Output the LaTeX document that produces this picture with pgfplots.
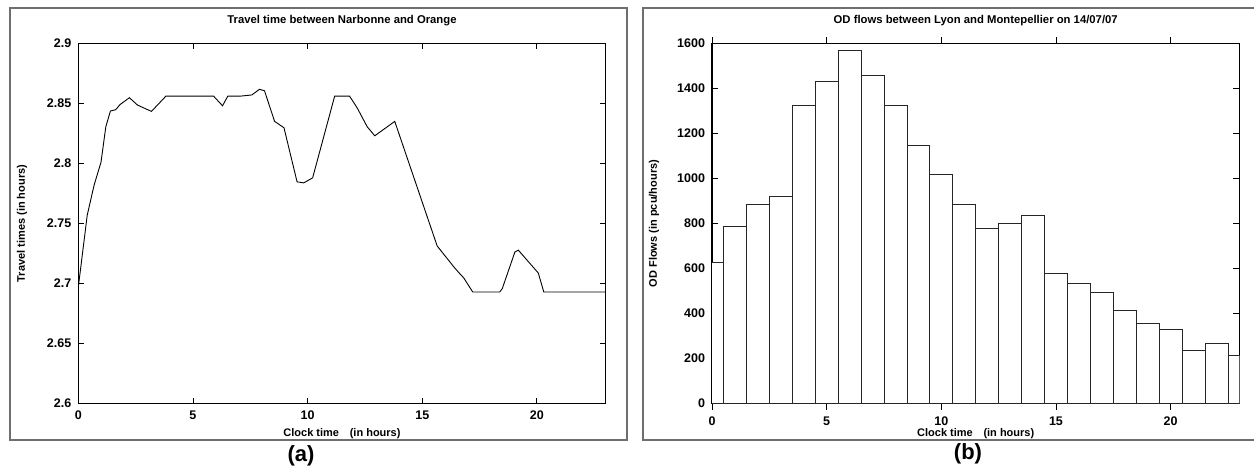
\documentclass[border=0pt]{standalone}
\usepackage{fontspec}
\setmainfont{Liberation Sans}
\usepackage{pgfplots}
\pgfplotsset{compat=1.18}
\definecolor{framegray}{RGB}{110,110,110}
\begin{document}
\begin{tikzpicture}
\path[use as bounding box] (0pt,0pt) rectangle (1254pt,468pt);
\draw[framegray, line width=1.3pt] (10pt,28pt) rectangle (627pt,460pt);
\draw[framegray, line width=1.3pt] (643pt,28pt) rectangle (1264pt,460pt);
\pgfplotsset{
  myaxis/.style={
    scale only axis, width=527.4pt, height=360.4pt,
    anchor=south west,
    xmin=0, xmax=23,
    xtick={0,5,10,15,20},
    tick align=inside,
    major tick length=6pt,
    axis line style={line width=1.2pt},
    every tick/.style={black, line width=0.9pt},
    /pgf/number format/assume math mode=true,
    /pgf/number format/1000 sep={},
    tick label style={font=\bfseries\fontsize{12.5}{14}\selectfont},
    xticklabel shift=4pt,
    yticklabel shift=3.5pt,
    title style={at={(axis description cs:0.5,1)}, anchor=base, yshift=14pt, font=\bfseries\fontsize{11.3}{13}\selectfont},
    every axis x label/.style={at={(axis description cs:0.5,-0.0841)}, anchor=center, font=\bfseries\fontsize{11}{13}\selectfont},
    every axis y label/.style={rotate=90, anchor=center, font=\bfseries\fontsize{11}{13}\selectfont},
    xlabel={Clock time\hspace{10.7pt}(in hours)},
  }
}
\begin{axis}[myaxis, at={(78.3pt,64.3pt)},
  ymin=2.6, ymax=2.9,
  ytick={2.6,2.65,2.7,2.75,2.8,2.85,2.9},
  yticklabels={2.6,2.65,2.7,2.75,2.8,2.85,2.9},
  title={Travel time between Narbonne and Orange},
  ylabel={Travel times (in hours)},
  ylabel style={at={(axis description cs:-0.1067,0.5)}},
]
\addplot[black, line width=0.9pt] coordinates {
(0,2.697) (0.39,2.757) (0.69,2.782) (0.99,2.801) (1.2,2.8305) (1.4,2.8436)
(1.63,2.8447) (1.82,2.849) (2.23,2.8547) (2.58,2.8486) (3.19,2.8433) (3.82,2.856)
(5.9,2.856) (6.29,2.848) (6.52,2.856) (7.06,2.856) (7.57,2.857) (7.9,2.8617)
(8.12,2.8605) (8.56,2.835) (8.97,2.8297) (9.54,2.7847) (9.83,2.7838) (10.22,2.788)
(11.18,2.856) (11.83,2.856) (12.16,2.8463) (12.6,2.8305) (12.93,2.823) (13.8,2.835)
(15.65,2.7313) (16.38,2.7138) (16.67,2.7075) (16.81,2.7047) (17.2,2.693) (18.38,2.693)
(18.49,2.6958) (19.04,2.7263) (19.19,2.7278) (20.06,2.7088) (20.3,2.693) (23,2.693)
};
\end{axis}
\begin{axis}[myaxis, at={(712pt,64.3pt)},
  ymin=0, ymax=1600,
  ytick={0,200,400,600,800,1000,1200,1400,1600},
  title={OD flows between Lyon and Montepellier on 14/07/07},
  ylabel={OD Flows (in pcu/hours)},
  ylabel style={at={(axis description cs:-0.110,0.5)}},
  ybar, bar width=1, bar shift=0,
]
\addplot[draw=black!85, fill=white, line width=0.8pt] coordinates {
(0,628) (1,786) (2,885) (3,922) (4,1323) (5,1429) (6,1568) (7,1456)
(8,1323) (9,1148) (10,1018) (11,886) (12,777) (13,802) (14,837) (15,579)
(16,534) (17,494) (18,413) (19,357) (20,328) (21,238) (22,268) (23,213)
};
\end{axis}
\node[font=\bfseries\fontsize{22}{24}\selectfont] at (301pt,12pt) {(a)};
\node[font=\bfseries\fontsize{22}{24}\selectfont] at (968pt,14pt) {(b)};
\end{tikzpicture}
\end{document}
